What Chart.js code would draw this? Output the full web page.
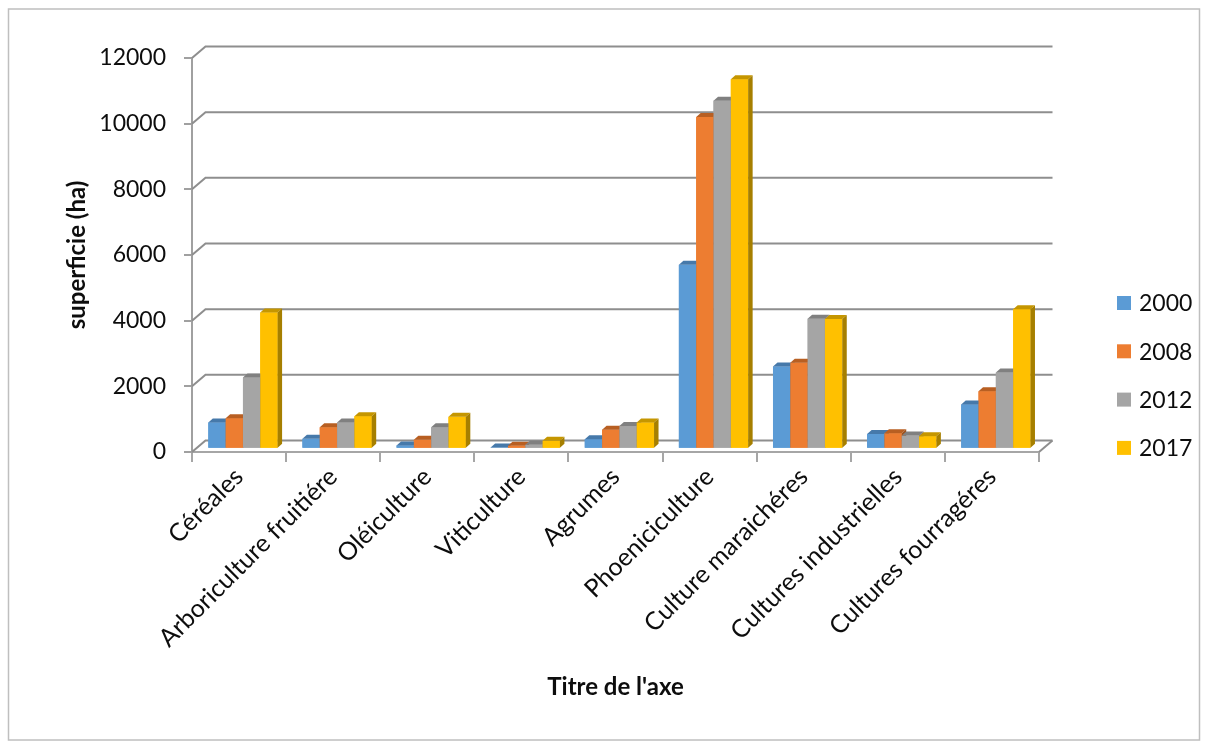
<!DOCTYPE html>
<html>
<head>
<meta charset="utf-8">
<script src="https://cdn.jsdelivr.net/npm/chart.js@4.4.1/dist/chart.umd.min.js"></script>
<style>
  html, body { margin: 0; padding: 0; background: #fff; }
  #wrap { width: 1208px; height: 742px; }
</style>
</head>
<body>
<div id="wrap"><canvas id="chart" width="1208" height="742"></canvas></div>
<script>
const categories = ['Céréales', 'Arboriculture fruitiére', 'Oléiculture', 'Viticulture', 'Agrumes',
    'Phoeniciculture', 'Culture maraichéres', 'Cultures industrielles', 'Cultures fourragéres'];
const years = ['2000', '2008', '2012', '2017'];
const s2000 = [800, 300, 100, 40, 290, 5600, 2500, 450, 1350];
const s2008 = [930, 650, 270, 90, 580, 10100, 2620, 470, 1750];
const s2012 = [2170, 800, 650, 120, 690, 10600, 3960, 400, 2320];
const s2017 = [4150, 990, 970, 240, 800, 11250, 3950, 380, 4250];
const yTicks = [0, 2000, 4000, 6000, 8000, 10000, 12000];

const colors = ['#5B9BD5', '#ED7D31', '#A5A5A5', '#FFC000'];
const topColors = ['#4679AA', '#B85F22', '#808080', '#C59600'];
const sideColors = ['#3B6790', '#9C501C', '#6E6E6E', '#A67F00'];

// depth of the back wall and of the columns, in pixels
const wall = { dx: 13.5, dy: 11.5 };
const barShift = { dx: 3.9, dy: 3.3 };
const barDepth = { dx: 4.5, dy: 4 };
const gridColor = '#8E8E8E';
const fontFamily = 'Lato, "Open Sans", sans-serif';

function shade(ctx, pts, color) {
    ctx.beginPath();
    ctx.moveTo(pts[0][0], pts[0][1]);
    for (let i = 1; i < pts.length; i++) ctx.lineTo(pts[i][0], pts[i][1]);
    ctx.closePath();
    ctx.fillStyle = color;
    ctx.fill();
}

const frame3d = {
    id: 'frame3d',
    beforeDraw(chart) {
        const ctx = chart.ctx;
        ctx.save();
        ctx.fillStyle = '#fff';
        ctx.fillRect(0, 0, chart.width, chart.height);
        ctx.strokeStyle = '#BFBFBF';
        ctx.lineWidth = 1.5;
        ctx.strokeRect(8.5, 9, 1191, 731);
        ctx.restore();
    },
    beforeDatasetsDraw(chart) {
        const ctx = chart.ctx;
        const { left, right, bottom } = chart.chartArea;
        const y = chart.scales.y;
        ctx.save();
        ctx.strokeStyle = gridColor;
        ctx.lineWidth = 2;
        yTicks.forEach(v => {
            const py = y.getPixelForValue(v);
            ctx.beginPath();
            ctx.moveTo(left, py);
            ctx.lineTo(left + wall.dx, py - wall.dy);
            ctx.lineTo(right + wall.dx, py - wall.dy);
            ctx.stroke();
        });
        // right edge of the floor
        ctx.beginPath();
        ctx.moveTo(right, bottom);
        ctx.lineTo(right + wall.dx, bottom - wall.dy);
        ctx.stroke();
        ctx.restore();

        ctx.save();
        ctx.translate(barShift.dx, -barShift.dy);
    },
    afterDatasetsDraw(chart) {
        const ctx = chart.ctx;
        const metas = chart.data.datasets.map((d, k) => chart.getDatasetMeta(k));
        categories.forEach((c, i) => {
            metas.forEach((meta, k) => {
                const bar = meta.data[i];
                const { x, y, base, width } = bar.getProps(['x', 'y', 'base', 'width'], true);
                const l = x - width / 2, r = x + width / 2;
                ctx.fillStyle = colors[k];
                ctx.fillRect(l, y, width, base - y);
                shade(ctx, [[l, y], [l + barDepth.dx, y - barDepth.dy], [r + barDepth.dx, y - barDepth.dy], [r, y]], topColors[k]);
                shade(ctx, [[r, y], [r + barDepth.dx, y - barDepth.dy], [r + barDepth.dx, base - barDepth.dy], [r, base]], sideColors[k]);
            });
        });
        ctx.restore();
    },
    afterDraw(chart) {
        const ctx = chart.ctx;
        ctx.save();
        ctx.font = '23px ' + fontFamily;
        ctx.textBaseline = 'middle';
        chart.data.datasets.forEach((d, k) => {
            const cy = 303 + k * 48.3;
            ctx.fillStyle = d.backgroundColor;
            ctx.fillRect(1117, cy - 7, 14, 14);
            ctx.fillStyle = '#0d0d0d';
            ctx.fillText(d.label, 1139, cy + 1);
        });
        ctx.restore();
    }
};

Chart.defaults.font.family = fontFamily;
Chart.defaults.color = '#0d0d0d';

new Chart(document.getElementById('chart'), {
    type: 'bar',
    data: {
        labels: categories,
        datasets: [s2000, s2008, s2012, s2017].map((values, k) => ({
            label: years[k],
            data: values,
            backgroundColor: colors[k],
            borderWidth: 0,
            barPercentage: 1,
            categoryPercentage: 0.736
        }))
    },
    options: {
        responsive: false,
        animation: false,
        events: [],
        layout: { padding: { top: 58, right: 169, bottom: 0, left: 0 } },
        plugins: { legend: { display: false }, tooltip: { enabled: false } },
        scales: {
            x: {
                grid: { offset: true, drawOnChartArea: false, drawTicks: true, tickLength: 10, color: '#A6A6A6', lineWidth: 2 },
                border: { display: true, color: '#A6A6A6', width: 2 },
                ticks: { autoSkip: false, minRotation: 45, maxRotation: 45, padding: 0, font: { size: 25 } },
                title: { display: true, text: "Titre de l'axe", font: { size: 24, weight: 'bold' }, padding: { top: 0, bottom: 40 } },
                afterFit(scale) { scale.height = 290; }
            },
            y: {
                min: 0,
                max: 12000,
                ticks: { stepSize: 2000, padding: 18, font: { size: 23 }, callback: v => String(v) },
                grid: { drawOnChartArea: false, drawTicks: true, tickLength: 8, color: '#A0A0A0', lineWidth: 2 },
                border: { display: true, color: '#A0A0A0', width: 2 },
                title: { display: true, text: 'superficie (ha)', font: { size: 24, weight: 'bold' }, padding: { top: 63, bottom: 0 } },
                afterFit(scale) { scale.width = 192; }
            }
        }
    },
    plugins: [frame3d]
});
</script>
</body>
</html>
